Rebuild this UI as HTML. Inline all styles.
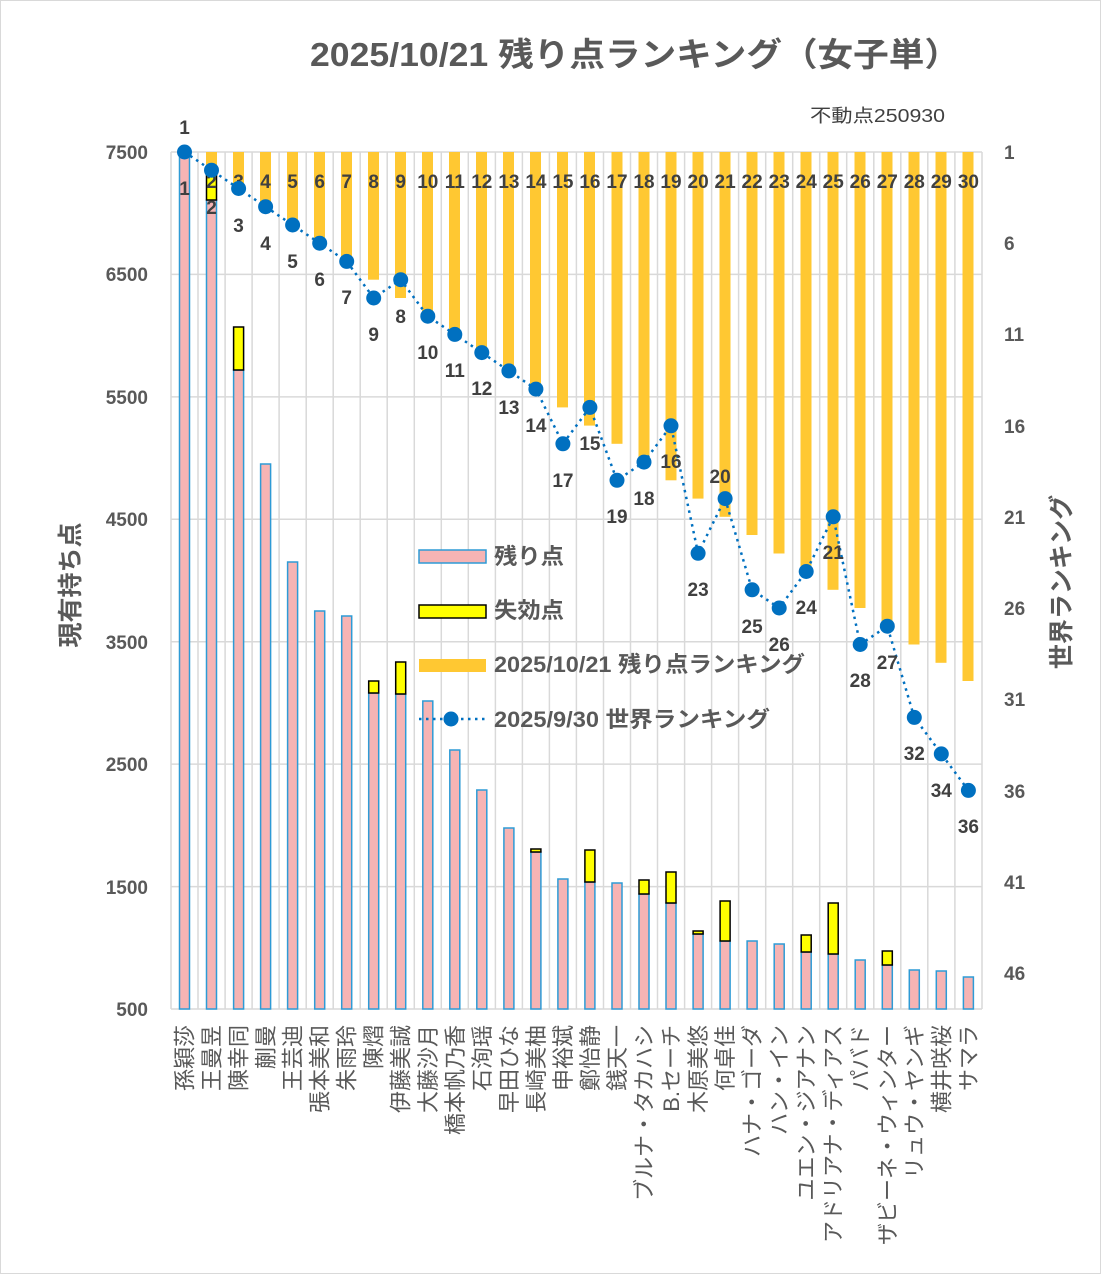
<!DOCTYPE html>
<html><head><meta charset="utf-8"><style>
html,body{margin:0;padding:0;background:#fff}
svg{display:block;font-family:"Liberation Sans","Noto Sans CJK JP",sans-serif}
</style></head><body>
<svg width="1101" height="1274" viewBox="0 0 1101 1274" xmlns="http://www.w3.org/2000/svg">
<rect x="0.5" y="0.5" width="1100" height="1273" fill="#fff" stroke="#d9d9d9"/>
<text x="310" y="66" font-size="33" font-weight="bold" fill="#595959" textLength="650" lengthAdjust="spacingAndGlyphs">2025/10/21 残り点ランキング（女子単）</text>
<text x="810" y="122" font-size="18" fill="#404040" textLength="135" lengthAdjust="spacingAndGlyphs">不動点250930</text>
<!-- grid -->
<g stroke="#d9d9d9" stroke-width="1.5">
<line x1="171" y1="152" x2="982" y2="152"/><line x1="171" y1="274.4" x2="982" y2="274.4"/><line x1="171" y1="396.9" x2="982" y2="396.9"/><line x1="171" y1="519.3" x2="982" y2="519.3"/><line x1="171" y1="641.7" x2="982" y2="641.7"/><line x1="171" y1="764.1" x2="982" y2="764.1"/><line x1="171" y1="886.6" x2="982" y2="886.6"/><line x1="171" y1="1009" x2="982" y2="1009"/>
<line x1="171" y1="152" x2="171" y2="1009"/><line x1="198" y1="152" x2="198" y2="1009"/><line x1="225.1" y1="152" x2="225.1" y2="1009"/><line x1="252.1" y1="152" x2="252.1" y2="1009"/><line x1="279.1" y1="152" x2="279.1" y2="1009"/><line x1="306.2" y1="152" x2="306.2" y2="1009"/><line x1="333.2" y1="152" x2="333.2" y2="1009"/><line x1="360.2" y1="152" x2="360.2" y2="1009"/><line x1="387.2" y1="152" x2="387.2" y2="1009"/><line x1="414.3" y1="152" x2="414.3" y2="1009"/><line x1="441.3" y1="152" x2="441.3" y2="1009"/><line x1="468.3" y1="152" x2="468.3" y2="1009"/><line x1="495.4" y1="152" x2="495.4" y2="1009"/><line x1="522.4" y1="152" x2="522.4" y2="1009"/><line x1="549.4" y1="152" x2="549.4" y2="1009"/><line x1="576.4" y1="152" x2="576.4" y2="1009"/><line x1="603.5" y1="152" x2="603.5" y2="1009"/><line x1="630.5" y1="152" x2="630.5" y2="1009"/><line x1="657.5" y1="152" x2="657.5" y2="1009"/><line x1="684.6" y1="152" x2="684.6" y2="1009"/><line x1="711.6" y1="152" x2="711.6" y2="1009"/><line x1="738.6" y1="152" x2="738.6" y2="1009"/><line x1="765.7" y1="152" x2="765.7" y2="1009"/><line x1="792.7" y1="152" x2="792.7" y2="1009"/><line x1="819.7" y1="152" x2="819.7" y2="1009"/><line x1="846.7" y1="152" x2="846.7" y2="1009"/><line x1="873.8" y1="152" x2="873.8" y2="1009"/><line x1="900.8" y1="152" x2="900.8" y2="1009"/><line x1="927.8" y1="152" x2="927.8" y2="1009"/><line x1="954.9" y1="152" x2="954.9" y2="1009"/><line x1="982" y1="152" x2="982" y2="1009"/>
</g>
<!-- orange bars -->
<g fill="#ffc832">
<rect x="206" y="152" width="11" height="18.2"/><rect x="233" y="152" width="11" height="36.5"/><rect x="260" y="152" width="11" height="54.7"/><rect x="287" y="152" width="11" height="73"/><rect x="314" y="152" width="11" height="91.2"/><rect x="341" y="152" width="11" height="109.4"/><rect x="368" y="152" width="11" height="127.7"/><rect x="395" y="152" width="11" height="146"/><rect x="422" y="152" width="11" height="164.2"/><rect x="449" y="152" width="11" height="182.4"/><rect x="476" y="152" width="11" height="200.6"/><rect x="503" y="152" width="11" height="218.9"/><rect x="530" y="152" width="11" height="237.1"/><rect x="557" y="152" width="11" height="255.4"/><rect x="584" y="152" width="11" height="273.6"/><rect x="611.5" y="152" width="11" height="291.8"/><rect x="638.5" y="152" width="11" height="310"/><rect x="665.5" y="152" width="11" height="328.3"/><rect x="692.5" y="152" width="11" height="346.6"/><rect x="719.5" y="152" width="11" height="364.8"/><rect x="746.5" y="152" width="11" height="383"/><rect x="773.5" y="152" width="11" height="401.5"/><rect x="800.5" y="152" width="11" height="419.5"/><rect x="827.5" y="152" width="11" height="437.8"/><rect x="854.5" y="152" width="11" height="456"/><rect x="881.5" y="152" width="11" height="474.3"/><rect x="908.5" y="152" width="11" height="492.5"/><rect x="935.5" y="152" width="11" height="510.8"/><rect x="962.5" y="152" width="11" height="529"/>
</g>
<!-- pink bars -->
<g fill="#f6b4b4" stroke="#2e9bd6" stroke-width="1.5">
<rect x="179.5" y="152" width="10" height="857"/><rect x="206.5" y="200" width="10" height="809"/><rect x="233.6" y="370" width="10" height="639"/><rect x="260.6" y="464" width="10" height="545"/><rect x="287.6" y="562" width="10" height="447"/><rect x="314.7" y="611" width="10" height="398"/><rect x="341.7" y="616" width="10" height="393"/><rect x="368.7" y="693" width="10" height="316"/><rect x="395.7" y="694" width="10" height="315"/><rect x="422.8" y="701" width="10" height="308"/><rect x="449.8" y="750" width="10" height="259"/><rect x="476.8" y="790" width="10" height="219"/><rect x="503.9" y="828" width="10" height="181"/><rect x="530.9" y="852" width="10" height="157"/><rect x="557.9" y="879" width="10" height="130"/><rect x="584.9" y="882" width="10" height="127"/><rect x="612" y="883" width="10" height="126"/><rect x="639" y="894" width="10" height="115"/><rect x="666" y="903" width="10" height="106"/><rect x="693.1" y="934" width="10" height="75"/><rect x="720.1" y="941" width="10" height="68"/><rect x="747.1" y="941" width="10" height="68"/><rect x="774.2" y="944" width="10" height="65"/><rect x="801.2" y="952" width="10" height="57"/><rect x="828.2" y="954" width="10" height="55"/><rect x="855.2" y="960" width="10" height="49"/><rect x="882.3" y="965" width="10" height="44"/><rect x="909.3" y="970" width="10" height="39"/><rect x="936.3" y="971" width="10" height="38"/><rect x="963.4" y="977" width="10" height="32"/>
</g>
<!-- yellow -->
<g fill="#ffff00" stroke="#000" stroke-width="1.5">
<rect x="206.5" y="170" width="10" height="30"/><rect x="233.6" y="327" width="10" height="43"/><rect x="368.7" y="681" width="10" height="12"/><rect x="395.7" y="662" width="10" height="32"/><rect x="530.9" y="849" width="10" height="3"/><rect x="584.9" y="850" width="10" height="32"/><rect x="639" y="880" width="10" height="14"/><rect x="666" y="872" width="10" height="31"/><rect x="693.1" y="931" width="10" height="3"/><rect x="720.1" y="901" width="10" height="40"/><rect x="801.2" y="935" width="10" height="17"/><rect x="828.2" y="903" width="10" height="51"/><rect x="882.3" y="951" width="10" height="14"/>
</g>
<!-- orange bar labels -->
<g font-size="19" font-weight="bold" fill="#404040" text-anchor="middle">
<text x="184.5" y="195">1</text><text x="211.5" y="188">2</text><text x="238.6" y="188">3</text><text x="265.6" y="188">4</text><text x="292.6" y="188">5</text><text x="319.7" y="188">6</text><text x="346.7" y="188">7</text><text x="373.7" y="188">8</text><text x="400.7" y="188">9</text><text x="427.8" y="188">10</text><text x="454.8" y="188">11</text><text x="481.8" y="188">12</text><text x="508.9" y="188">13</text><text x="535.9" y="188">14</text><text x="562.9" y="188">15</text><text x="589.9" y="188">16</text><text x="617" y="188">17</text><text x="644" y="188">18</text><text x="671" y="188">19</text><text x="698.1" y="188">20</text><text x="725.1" y="188">21</text><text x="752.1" y="188">22</text><text x="779.2" y="188">23</text><text x="806.2" y="188">24</text><text x="833.2" y="188">25</text><text x="860.2" y="188">26</text><text x="887.3" y="188">27</text><text x="914.3" y="188">28</text><text x="941.3" y="188">29</text><text x="968.4" y="188">30</text>
</g>
<!-- world ranking line -->
<polyline fill="none" stroke="#0070c0" stroke-width="2.5" stroke-dasharray="2.5 4.5" points="184.5,152 211.5,170.2 238.6,188.5 265.6,206.7 292.6,225 319.7,243.2 346.7,261.4 373.7,298 400.7,279.7 427.8,316.2 454.8,334.4 481.8,352.6 508.9,370.9 535.9,389.1 562.9,443.8 589.9,407.4 617,480.3 644,462.1 671,425.8 698.1,553.3 725.1,498.6 752.1,589.8 779.2,608 806.2,571.5 833.2,516.8 860.2,644.5 887.3,626.2 914.3,717.4 941.3,753.9 968.4,790.4"/>
<g fill="#0070c0">
<circle cx="184.5" cy="152" r="7.5"/><circle cx="211.5" cy="170.2" r="7.5"/><circle cx="238.6" cy="188.5" r="7.5"/><circle cx="265.6" cy="206.7" r="7.5"/><circle cx="292.6" cy="225" r="7.5"/><circle cx="319.7" cy="243.2" r="7.5"/><circle cx="346.7" cy="261.4" r="7.5"/><circle cx="373.7" cy="298" r="7.5"/><circle cx="400.7" cy="279.7" r="7.5"/><circle cx="427.8" cy="316.2" r="7.5"/><circle cx="454.8" cy="334.4" r="7.5"/><circle cx="481.8" cy="352.6" r="7.5"/><circle cx="508.9" cy="370.9" r="7.5"/><circle cx="535.9" cy="389.1" r="7.5"/><circle cx="562.9" cy="443.8" r="7.5"/><circle cx="589.9" cy="407.4" r="7.5"/><circle cx="617" cy="480.3" r="7.5"/><circle cx="644" cy="462.1" r="7.5"/><circle cx="671" cy="425.8" r="7.5"/><circle cx="698.1" cy="553.3" r="7.5"/><circle cx="725.1" cy="498.6" r="7.5"/><circle cx="752.1" cy="589.8" r="7.5"/><circle cx="779.2" cy="608" r="7.5"/><circle cx="806.2" cy="571.5" r="7.5"/><circle cx="833.2" cy="516.8" r="7.5"/><circle cx="860.2" cy="644.5" r="7.5"/><circle cx="887.3" cy="626.2" r="7.5"/><circle cx="914.3" cy="717.4" r="7.5"/><circle cx="941.3" cy="753.9" r="7.5"/><circle cx="968.4" cy="790.4" r="7.5"/>
</g>
<g font-size="19" font-weight="bold" fill="#404040" text-anchor="middle">
<text x="184.5" y="134">1</text><text x="211.5" y="214">2</text><text x="238.6" y="232">3</text><text x="265.6" y="250">4</text><text x="292.6" y="268">5</text><text x="319.7" y="286">6</text><text x="346.7" y="304">7</text><text x="373.7" y="341">9</text><text x="400.7" y="323">8</text><text x="427.8" y="359">10</text><text x="454.8" y="377">11</text><text x="481.8" y="395">12</text><text x="508.9" y="414">13</text><text x="535.9" y="432">14</text><text x="562.9" y="487">17</text><text x="589.9" y="450">15</text><text x="617" y="523">19</text><text x="644" y="505">18</text><text x="671" y="468">16</text><text x="698.1" y="596">23</text><text x="720.1" y="483">20</text><text x="752.1" y="633">25</text><text x="779.2" y="651">26</text><text x="806.2" y="614">24</text><text x="833.2" y="559">21</text><text x="860.2" y="687">28</text><text x="887.3" y="669">27</text><text x="914.3" y="760">32</text><text x="941.3" y="797">34</text><text x="968.4" y="833">36</text>
</g>
<!-- left axis -->
<g font-size="19" font-weight="bold" fill="#595959" text-anchor="end">
<text x="148" y="159">7500</text><text x="148" y="281">6500</text><text x="148" y="404">5500</text><text x="148" y="526">4500</text><text x="148" y="649">3500</text><text x="148" y="771">2500</text><text x="148" y="894">1500</text><text x="148" y="1016">500</text>
</g>
<g font-size="19" font-weight="bold" fill="#595959">
<text x="1004" y="159">1</text><text x="1004" y="250">6</text><text x="1004" y="341">11</text><text x="1004" y="433">16</text><text x="1004" y="524">21</text><text x="1004" y="615">26</text><text x="1004" y="706">31</text><text x="1004" y="798">36</text><text x="1004" y="889">41</text><text x="1004" y="980">46</text>
</g>
<text transform="translate(79,585) rotate(-90)" text-anchor="middle" font-size="25" font-weight="bold" fill="#595959">現有持ち点</text>
<text transform="translate(1070,582) rotate(-90)" text-anchor="middle" font-size="25" font-weight="bold" fill="#595959">世界ランキング</text>
<!-- legend -->
<rect x="419" y="550" width="67" height="13" fill="#f6b4b4" stroke="#2e9bd6" stroke-width="1.5"/>
<rect x="419" y="605" width="67" height="13" fill="#ffff00" stroke="#000" stroke-width="1.5"/>
<rect x="419" y="659" width="67" height="13" fill="#ffc832"/>
<line x1="419" y1="719" x2="486" y2="719" stroke="#0070c0" stroke-width="2.5" stroke-dasharray="2.5 4.5"/>
<circle cx="451" cy="719" r="7.5" fill="#0070c0"/>
<g font-size="22" font-weight="bold" fill="#595959">
<text x="494" y="564" textLength="70" lengthAdjust="spacingAndGlyphs">残り点</text><text x="494" y="618" textLength="70" lengthAdjust="spacingAndGlyphs">失効点</text><text x="494" y="672" textLength="311" lengthAdjust="spacingAndGlyphs">2025/10/21 残り点ランキング</text><text x="494" y="727" textLength="276" lengthAdjust="spacingAndGlyphs">2025/9/30 世界ランキング</text>
</g>
<!-- categories -->
<g font-size="22" fill="#595959" text-anchor="end">
<text transform="translate(192.5,1025) rotate(-90)">孫穎莎</text><text transform="translate(219.5,1025) rotate(-90)">王曼昱</text><text transform="translate(246.6,1025) rotate(-90)">陳幸同</text><text transform="translate(273.6,1025) rotate(-90)">蒯曼</text><text transform="translate(300.6,1025) rotate(-90)">王芸迪</text><text transform="translate(327.7,1025) rotate(-90)">張本美和</text><text transform="translate(354.7,1025) rotate(-90)">朱雨玲</text><text transform="translate(381.7,1025) rotate(-90)">陳熠</text><text transform="translate(408.7,1025) rotate(-90)">伊藤美誠</text><text transform="translate(435.8,1025) rotate(-90)">大藤沙月</text><text transform="translate(462.8,1025) rotate(-90)">橋本帆乃香</text><text transform="translate(489.8,1025) rotate(-90)">石洵瑶</text><text transform="translate(516.9,1025) rotate(-90)">早田ひな</text><text transform="translate(543.9,1025) rotate(-90)">長崎美柚</text><text transform="translate(570.9,1025) rotate(-90)">申裕斌</text><text transform="translate(597.9,1025) rotate(-90)">鄭怡静</text><text transform="translate(625,1025) rotate(-90)">銭天一</text><text transform="translate(652,1025) rotate(-90)">ブルナ・タカハシ</text><text transform="translate(679,1025) rotate(-90)">B.セーチ</text><text transform="translate(706.1,1025) rotate(-90)">木原美悠</text><text transform="translate(733.1,1025) rotate(-90)">何卓佳</text><text transform="translate(760.1,1025) rotate(-90)">ハナ・ゴーダ</text><text transform="translate(787.2,1025) rotate(-90)">ハン・イン</text><text transform="translate(814.2,1025) rotate(-90)">ユエン・ジアナン</text><text transform="translate(841.2,1025) rotate(-90)">アドリアナ・ディアス</text><text transform="translate(868.2,1025) rotate(-90)">パバド</text><text transform="translate(895.3,1025) rotate(-90)">ザビーネ・ウィンター</text><text transform="translate(922.3,1025) rotate(-90)">リュウ・ヤンギ</text><text transform="translate(949.3,1025) rotate(-90)">横井咲桜</text><text transform="translate(976.4,1025) rotate(-90)">サマラ</text>
</g>
</svg>
</body></html>
